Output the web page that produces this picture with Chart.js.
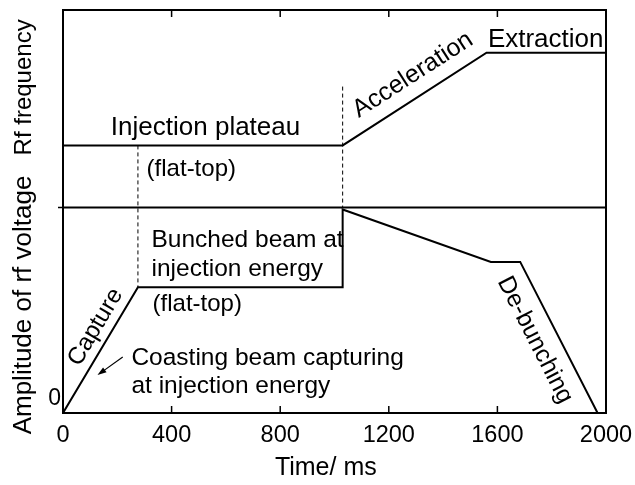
<!DOCTYPE html>
<html>
<head>
<meta charset="utf-8">
<script src="https://cdn.jsdelivr.net/npm/chart.js@4/dist/chart.umd.min.js"></script>
<style>
    html, body { margin: 0; padding: 0; background: #fff; }
</style>
</head>
<body>
<canvas id="rf-chart" width="635" height="485"></canvas>
<script>
"use strict";

// ---------- Data (arbitrary vertical units 0..100) ----------

const rfTime = [0, 1030, 1560, 2000];
const rfLevel = [66.4, 66.4, 89.4, 89.4];

const ampTime = [0, 276, 1030, 1030, 1576, 1684, 1969];
const ampLevel = [0, 31.2, 31.2, 50.5, 37.5, 37.5, 0];

// line separating the two panels
const dividerTime = [0, 2000];
const dividerLevel = [51, 51];

// dashed phase markers
const markerTime = [276, 1030];
const markerTop = [66.4, 81];
const markerBottom = [31.2, 51];

const xTickValues = [0, 400, 800, 1200, 1600, 2000];
const yTickValues = [0];
const yTickLabels = ["0"];

const FONT = '"Liberation Sans", Arial, Helvetica, sans-serif';

// annotation texts, positioned in data units; "along" rotates text to a segment
const NOTES = [
    { text: "Injection plateau", x: 525, y: 69.0, size: 26, align: "center" },
    { text: "(flat-top)", x: 308, y: 58.9, size: 24, align: "left" },
    { text: "Acceleration", x: 1289, y: 83.9, size: 25, align: "center", base: "middle", along: [rfTime, rfLevel, 1] },
    { text: "Extraction", x: 1565, y: 90.8, size: 26, align: "left" },
    { text: "Bunched beam at", x: 326, y: 41.2, size: 24.5, align: "left" },
    { text: "injection energy", x: 326, y: 34.0, size: 24.5, align: "left" },
    { text: "(flat-top)", x: 330, y: 25.4, size: 24, align: "left" },
    { text: "Capture", x: 120, y: 21.3, size: 24, align: "center", base: "middle", along: [ampTime, ampLevel, 0] },
    { text: "Coasting beam capturing", x: 252, y: 11.9, size: 24.5, align: "left" },
    { text: "at injection energy", x: 252, y: 5.0, size: 24.5, align: "left" },
    { text: "De-bunching", x: 1738, y: 18.1, size: 24.5, align: "center", base: "middle", along: [ampTime, ampLevel, 5] },
];

const ARROW = { from: [220, 13.9], to: [127, 9.4] };

const AXIS_TITLES = [
    { text: "Rf frequency", y: 80.8, size: 24 },
    { text: "Amplitude of rf voltage", y: 26.8, size: 26 },
];

// ---------- Helpers ----------

function points(xs, ys) {
    return xs.map((x, i) => ({ x: x, y: ys[i] }));
}

function lineSet(xs, ys, dash, width) {
    return {
        data: points(xs, ys),
        borderColor: "#000",
        borderWidth: width,
        borderDash: dash,
        pointRadius: 0,
        tension: 0,
        fill: false,
    };
}

const markerSets = markerTime.map((t, i) =>
    lineSet([t, t], [markerTop[i], markerBottom[i]], [4, 3], 1)
);

// keep the plot box exactly where the layout padding puts it
function noLabelOverflow(s) {
    s.paddingLeft = 0;
    s.paddingRight = 0;
    s.paddingTop = 0;
    s.paddingBottom = 0;
}

// ---------- Frame, ticks and texts ----------

const decorations = {
    id: "decorations",
    afterDraw(chart) {
        const { ctx, chartArea: a } = chart;
        const xs = chart.scales.x;
        const ys = chart.scales.y;

        ctx.save();
        ctx.strokeStyle = "#000";
        ctx.fillStyle = "#000";

        // box
        ctx.lineWidth = 2;
        ctx.strokeRect(a.left, a.top, a.right - a.left, a.bottom - a.top);

        // inward ticks on bottom and top
        ctx.lineWidth = 1.5;
        ctx.beginPath();
        for (const v of xTickValues) {
            const px = xs.getPixelForValue(v);
            ctx.moveTo(px, a.bottom);
            ctx.lineTo(px, a.bottom - 7);
            ctx.moveTo(px, a.top);
            ctx.lineTo(px, a.top + 7);
        }
        // outward tick at the divider
        const dy = ys.getPixelForValue(dividerLevel[0]);
        ctx.moveTo(a.left - 5, dy);
        ctx.lineTo(a.left, dy);
        ctx.stroke();

        // annotations
        for (const n of NOTES) {
            const px = xs.getPixelForValue(n.x);
            const py = ys.getPixelForValue(n.y);
            ctx.save();
            ctx.font = n.size + "px " + FONT;
            ctx.translate(px, py);
            if (n.along) {
                const [sx, sy, i] = n.along;
                const x1 = xs.getPixelForValue(sx[i]), y1 = ys.getPixelForValue(sy[i]);
                const x2 = xs.getPixelForValue(sx[i + 1]), y2 = ys.getPixelForValue(sy[i + 1]);
                ctx.rotate(Math.atan2(y2 - y1, x2 - x1));
            }
            ctx.textAlign = n.align;
            ctx.textBaseline = n.base || "alphabetic";
            ctx.fillText(n.text, 0, 0);
            ctx.restore();
        }

        // arrow
        const ax1 = xs.getPixelForValue(ARROW.from[0]), ay1 = ys.getPixelForValue(ARROW.from[1]);
        const ax2 = xs.getPixelForValue(ARROW.to[0]), ay2 = ys.getPixelForValue(ARROW.to[1]);
        const ang = Math.atan2(ay2 - ay1, ax2 - ax1);
        ctx.lineWidth = 1.2;
        ctx.beginPath();
        ctx.moveTo(ax1, ay1);
        ctx.lineTo(ax2 - 6 * Math.cos(ang), ay2 - 6 * Math.sin(ang));
        ctx.stroke();
        ctx.beginPath();
        ctx.moveTo(ax2, ay2);
        ctx.lineTo(ax2 - 9 * Math.cos(ang) + 3 * Math.sin(ang), ay2 - 9 * Math.sin(ang) - 3 * Math.cos(ang));
        ctx.lineTo(ax2 - 9 * Math.cos(ang) - 3 * Math.sin(ang), ay2 - 9 * Math.sin(ang) + 3 * Math.cos(ang));
        ctx.closePath();
        ctx.fill();

        // vertical axis titles
        ctx.textAlign = "center";
        ctx.textBaseline = "middle";
        for (const t of AXIS_TITLES) {
            ctx.save();
            ctx.font = t.size + "px " + FONT;
            ctx.translate(24, ys.getPixelForValue(t.y));
            ctx.rotate(-Math.PI / 2);
            ctx.fillText(t.text, 0, 0);
            ctx.restore();
        }

        // horizontal axis title
        ctx.font = "25px " + FONT;
        ctx.textBaseline = "alphabetic";
        ctx.fillText("Time/ ms", xs.getPixelForValue(968), a.bottom + 62);

        ctx.restore();
    },
};

// ---------- Chart ----------

new Chart(document.getElementById("rf-chart"), {
    type: "line",
    data: {
        datasets: [
            lineSet(rfTime, rfLevel, [], 2),
            lineSet(ampTime, ampLevel, [], 2),
            lineSet(dividerTime, dividerLevel, [], 2),
            ...markerSets,
        ],
    },
    options: {
        responsive: false,
        animation: false,
        layout: { padding: { left: 0, right: 29, top: 10, bottom: 0 } },
        plugins: {
            legend: { display: false },
            tooltip: { enabled: false },
        },
        scales: {
            x: {
                type: "linear",
                min: 0,
                max: 2000,
                afterBuildTicks: (s) => { s.ticks = xTickValues.map((v) => ({ value: v })); },
                afterFit: (s) => { s.height = 72; noLabelOverflow(s); },
                ticks: {
                    color: "#000",
                    font: { family: FONT, size: 23.5 },
                    padding: 8,
                    maxRotation: 0,
                    callback: (v) => String(v),
                },
                grid: { drawOnChartArea: false, drawTicks: false },
                border: { display: false },
            },
            y: {
                type: "linear",
                min: 0,
                max: 100,
                afterBuildTicks: (s) => { s.ticks = yTickValues.map((v) => ({ value: v })); },
                afterFit: (s) => { s.width = 63; noLabelOverflow(s); },
                ticks: {
                    color: "#000",
                    font: { family: FONT, size: 23 },
                    padding: 2,
                    labelOffset: -14,
                    callback: (v) => {
                        const i = yTickValues.indexOf(v);
                        return i >= 0 ? yTickLabels[i] : "";
                    },
                },
                grid: { drawOnChartArea: false, drawTicks: false },
                border: { display: false },
            },
        },
    },
    plugins: [decorations],
});
</script>
</body>
</html>
